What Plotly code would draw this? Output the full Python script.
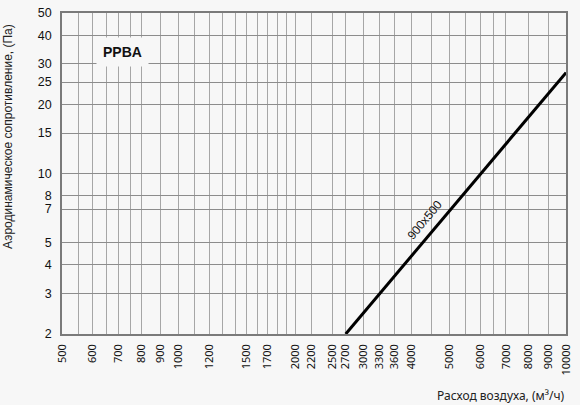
import numpy as np
import plotly.graph_objects as go

# flow (m3/h) vs pressure drop (Pa), log-log
flow = [2700, 10000]
dp_900x500 = [2.0, 27.5]

x_grid = [500, 550, 600, 650, 700, 750, 800, 900, 1000, 1100, 1200, 1300, 1400,
          1500, 1600, 1700, 1800, 1900, 2000, 2200, 2500, 2700, 3000, 3300, 3600,
          4000, 4500, 5000, 5500, 6000, 6500, 7000, 8000, 9000, 10000]
x_labels = [500, 600, 700, 800, 900, 1000, 1200, 1500, 1700, 2000, 2200, 2500,
            2700, 3000, 3300, 3600, 4000, 5000, 6000, 7000, 8000, 9000, 10000]
y_grid = [2, 3, 4, 5, 7, 8, 10, 15, 20, 25, 30, 40, 50]

label_flow = 4560
label_dp = 5.71

bg = "#f7f7f7"

fig = go.Figure()
fig.add_trace(go.Scatter(
    x=flow, y=dp_900x500, mode="lines",
    line=dict(color="black", width=3),
    showlegend=False, hoverinfo="skip",
))

fig.update_xaxes(
    type="log", range=[np.log10(500), np.log10(10000)],
    tickmode="array", tickvals=x_grid,
    ticktext=[str(v) if v in x_labels else "" for v in x_grid],
    tickangle=-90, ticks="", ticklabelstandoff=4, automargin=False,
    tickfont=dict(family="Noto Sans", size=11, color="#111"),
    showgrid=True, gridcolor="#a6a6a6", gridwidth=1,
    showline=True, linecolor="#7a7a7a", linewidth=1.5, mirror=True,
    zeroline=False,
)
fig.update_yaxes(
    type="log", range=[np.log10(2), np.log10(50)],
    tickmode="array", tickvals=y_grid, ticktext=[str(v) for v in y_grid],
    ticks="", ticklabelstandoff=6, automargin=False,
    tickfont=dict(family="Liberation Sans", size=12.5, color="#111"),
    showgrid=True, gridcolor="#8c8c8c", gridwidth=1,
    showline=True, linecolor="#7a7a7a", linewidth=1.5, mirror=True,
    zeroline=False,
)

fig.add_annotation(
    x=np.log10(label_flow), y=np.log10(label_dp), xref="x", yref="y",
    text="900x500", showarrow=False, textangle=-50,
    xshift=-9, yshift=9,
    font=dict(family="Liberation Sans", size=12, color="#111"),
)
fig.add_annotation(
    x=0.068, y=0.925, xref="paper", yref="paper",
    text="<b>PPBA</b>", showarrow=False,
    bgcolor=bg, borderpad=6,
    font=dict(family="Liberation Sans", size=14, color="#111"),
)
fig.add_annotation(
    x=1.0, y=-0.193, xref="paper", yref="paper",
    xanchor="right", yanchor="middle",
    text="Расход воздуха, (м³/ч)", showarrow=False,
    font=dict(family="Noto Sans", size=12, color="#222"),
)
fig.add_annotation(
    x=-0.107, y=0.614, xref="paper", yref="paper",
    xanchor="center", yanchor="middle",
    text="Аэродинамическое сопротивление, (Па)", showarrow=False,
    textangle=-90,
    font=dict(family="Liberation Sans", size=12, color="#222"),
)

fig.update_layout(
    width=580, height=405,
    margin=dict(l=62, r=14, t=13, b=71),
    paper_bgcolor=bg, plot_bgcolor=bg,
)

fig.write_html(
    "out.html",
    config={"displayModeBar": False},
    post_script="document.body.style.margin='0';"
                "document.body.style.background='#f7f7f7';",
)
